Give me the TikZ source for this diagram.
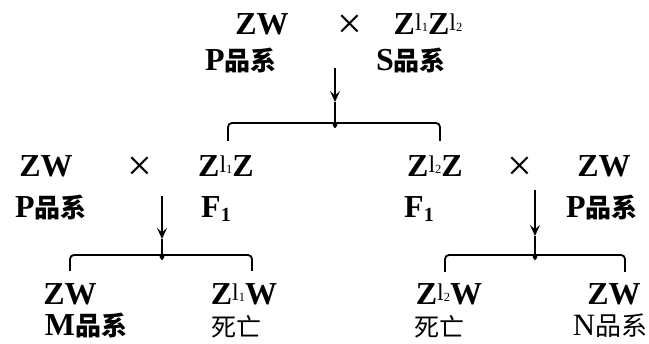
\documentclass[tikz,border=0pt]{standalone}
\usepackage{fontspec}
\setmainfont{Liberation Serif}
\newfontfamily\cjk{Noto Sans CJK SC}
\usetikzlibrary{arrows.meta}
\newcommand{\lsup}[1]{\raisebox{4.5pt}{\fontsize{24}{24}\selectfont\mdseries l\raisebox{-1.5pt}{\fontsize{12.5}{12.5}\selectfont #1}}}
\newcommand{\pinxi}[1]{#1{\cjk\fontsize{26}{26}\selectfont 品系}}
\newcommand{\Fone}{F\raisebox{-4pt}{\fontsize{20}{20}\selectfont 1}}
\tikzset{
  lab/.style={anchor=base, inner sep=0pt, font=\fontsize{32}{34}\selectfont\bfseries},
  crs/.style={anchor=center, inner sep=0pt, font=\fontsize{44}{44}\selectfont\mdseries},
  dead/.style={anchor=base, inner sep=0pt, font=\cjk\fontsize{25}{25}\selectfont\mdseries},
  last/.style={text depth=0pt},
  arr/.style={line width=1.8pt, -{Stealth[length=11pt,width=10pt,inset=4.5pt]}},
  brk/.style={line width=1.8pt, rounded corners=4pt}
}
\begin{document}
\begin{tikzpicture}[x=1pt,y=-1pt]
\clip (0,0) rectangle (649,344);
% row 1
\node[lab] (zw0) at (262,35) {ZW};
\node[crs] (x0) at (350,27) {×};
\node[lab] (z12) at (428,35) {Z\lsup{1}Z\lsup{2}};
% row 2
\node[lab] (p0) at (241,71) {\pinxi{P}};
\node[lab] (s0) at (411,71) {\pinxi{S}};
% top arrow + bracket
\coordinate (a0) at (335,68);
\coordinate (t0) at (335,102);
\coordinate (j0) at (335,123);
\coordinate (l0) at (228,141);
\coordinate (r0) at (440,141);
\draw[arr] (a0) -- (t0);
\draw[line width=1.8pt] (t0) -- ([yshift=-3pt]j0);
\draw[brk] ([yshift=-3pt]j0) to[out=-90,in=0] ([xshift=-5pt]j0) -- (j0 -| l0) -- (l0);
\draw[brk] ([yshift=-3pt]j0) to[out=-90,in=180] ([xshift=5pt]j0) -- (j0 -| r0) -- (r0);
% row 3
\node[lab] (zw1) at (46,177) {ZW};
\node[crs] (x1) at (140,169) {×};
\node[lab] (z1z) at (226,177) {Z\lsup{1}Z};
\node[lab] (z2z) at (435,177) {Z\lsup{2}Z};
\node[crs] (x2) at (520,169) {×};
\node[lab] (zw2) at (604,177) {ZW};
% row 4
\node[lab] (p1) at (51,218) {\pinxi{P}};
\node[lab] (f1) at (216,218) {\Fone};
\node[lab] (f2) at (419,218) {\Fone};
\node[lab] (p2) at (602,218) {\pinxi{P}};
% left arrow + bracket
\coordinate (a1) at (162,196);
\coordinate (t1) at (162,239);
\coordinate (j1) at (162,255);
\coordinate (l1) at (70,271);
\coordinate (r1) at (252,271);
\draw[arr] (a1) -- (t1);
\draw[line width=1.8pt] (t1) -- ([yshift=-3pt]j1);
\draw[brk] ([yshift=-3pt]j1) to[out=-90,in=0] ([xshift=-5pt]j1) -- (j1 -| l1) -- (l1);
\draw[brk] ([yshift=-3pt]j1) to[out=-90,in=180] ([xshift=5pt]j1) -- (j1 -| r1) -- (r1);
% right arrow + bracket
\coordinate (a2) at (535,190);
\coordinate (t2) at (535,236);
\coordinate (j2) at (535,255);
\coordinate (l2) at (445,272);
\coordinate (r2) at (625,272);
\draw[arr] (a2) -- (t2);
\draw[line width=1.8pt] (t2) -- ([yshift=-3pt]j2);
\draw[brk] ([yshift=-3pt]j2) to[out=-90,in=0] ([xshift=-5pt]j2) -- (j2 -| l2) -- (l2);
\draw[brk] ([yshift=-3pt]j2) to[out=-90,in=180] ([xshift=5pt]j2) -- (j2 -| r2) -- (r2);
% row 5
\node[lab] (zw3) at (70,305) {ZW};
\node[lab] (z1w) at (244,305) {Z\lsup{1}W};
\node[lab] (z2w) at (449,305) {Z\lsup{2}W};
\node[lab] (zw4) at (614,305) {ZW};
% row 6
\node[lab, last] (m0) at (86,336) {\pinxi{M}};
\node[dead, last] (d1) at (236,337) {死亡};
\node[dead, last] (d2) at (439,337) {死亡};
\node[lab, last, font=\fontsize{31}{34}\selectfont\mdseries] (n0) at (610,336) {\pinxi{N}};
\end{tikzpicture}
\end{document}
